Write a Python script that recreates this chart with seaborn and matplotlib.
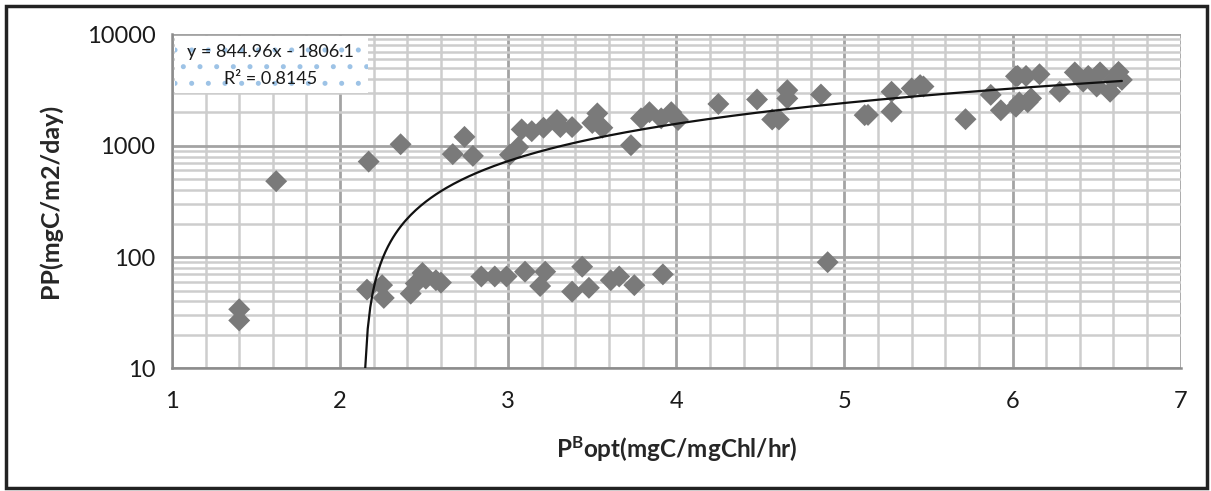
"""
PP vs PBopt scatter on a log axis with the Excel-style linear trendline.
"""

import numpy as np
import pandas as pd
import matplotlib
matplotlib.use("Agg")
import matplotlib.pyplot as plt
import matplotlib.ticker as mticker
from matplotlib.patches import Rectangle
import seaborn as sns

# --- data
pbopt = [1.40, 1.40, 1.62, 2.17, 2.36, 2.67, 2.74, 2.79, 3.01, 3.06,
         3.08, 3.14, 3.21, 3.29, 3.31, 3.38, 3.50, 3.53, 3.56, 3.73,
         3.79, 3.84, 3.91, 3.97, 4.01, 4.25, 4.48, 4.57, 4.61, 4.66,
         4.66, 4.86, 5.12, 5.14, 5.28, 5.28, 5.40, 5.45, 5.47, 5.72,
         5.87, 5.93, 6.02, 6.02, 6.04, 6.03, 6.08, 6.09, 6.11, 6.16,
         6.28, 6.37, 6.42, 6.45, 6.50, 6.52, 6.58, 6.60, 6.63, 6.65,
         2.16, 2.25, 2.26, 2.42, 2.45, 2.49, 2.51, 2.57, 2.60, 2.84,
         2.92, 2.99, 3.10, 3.22, 3.19, 3.44, 3.38, 3.48, 3.61, 3.66,
         3.75, 3.92, 4.90]
pp = [34, 27, 480, 720, 1030, 840, 1200, 810, 830, 970,
      1400, 1350, 1450, 1700, 1470, 1470, 1600, 1950, 1450, 1010,
      1760, 2000, 1760, 2000, 1700, 2370, 2600, 1720, 1720, 3150,
      2660, 2880, 1880, 1890, 3050, 2020, 3270, 3500, 3400, 1730,
      2860, 2080, 4200, 2240, 2450, 4230, 4230, 2460, 2660, 4380,
      3050, 4550, 3760, 4230, 3400, 4550, 3050, 3900, 4600, 3900,
      51, 56, 43, 47, 58, 72, 64, 62, 59, 67,
      67, 67, 74, 74, 55, 82, 49, 53, 62, 67,
      56, 70, 90]

slope = 844.96
intercept = -1806.1
r2 = 0.8145

df = pd.DataFrame({"pbopt": pbopt, "pp": pp})

# trendline over the data range, only where it is above the axis floor
xs = np.linspace((10 - intercept) / slope, max(pbopt), 300)
trend = pd.DataFrame({"pbopt": xs, "pp": slope * xs + intercept})

sns.set_style("white")
plt.rcParams["font.family"] = ["Lato", "DejaVu Sans"]
plt.rcParams["mathtext.fontset"] = "custom"
plt.rcParams["mathtext.rm"] = "Lato"
plt.rcParams["mathtext.bf"] = "Lato:bold"
plt.rcParams["hatch.linewidth"] = 1.2
plt.rcParams["hatch.color"] = "#9dc3e6"

fig = plt.figure(figsize=(12.11, 4.91), dpi=100)
ax = fig.add_axes([0.142, 0.2495, 0.833, 0.6806])

ax.set_yscale("log")
ax.set_xlim(1, 7)
ax.set_ylim(10, 10000)

ax.xaxis.set_major_locator(mticker.MultipleLocator(1))
ax.xaxis.set_minor_locator(mticker.MultipleLocator(0.2))
ax.yaxis.set_major_locator(mticker.LogLocator(base=10))
ax.yaxis.set_minor_locator(mticker.LogLocator(base=10, subs=np.arange(2, 10)))
ax.yaxis.set_major_formatter(mticker.FuncFormatter(lambda v, p: f"{v:.0f}"))
ax.yaxis.set_minor_formatter(mticker.NullFormatter())

ax.grid(which="major", color="#a3a3a3", linewidth=2.0)
ax.grid(which="minor", color="#cdcdcd", linewidth=1.8)
ax.set_axisbelow(True)

for side in ["left", "bottom"]:
    ax.spines[side].set_color("#8c8c8c")
    ax.spines[side].set_linewidth(1.8)
for side in ["top", "right"]:
    ax.spines[side].set_visible(False)

ax.tick_params(axis="both", which="major", length=6, width=1.8, color="#8c8c8c",
               labelsize=17, pad=6, labelcolor="#1a1a1a")
ax.tick_params(axis="y", which="minor", direction="in", length=4, width=1.2, color="#8c8c8c")
ax.tick_params(axis="x", which="minor", length=0)
ax.tick_params(axis="x", which="major", pad=10)

sns.scatterplot(data=df, x="pbopt", y="pp", marker="D", s=125, color="#7a7a7a",
                edgecolor="none", ax=ax, zorder=3, clip_on=False)
sns.lineplot(data=trend, x="pbopt", y="pp", color="#111111", linewidth=1.6,
             ax=ax, zorder=4, sort=False)

ax.set_xlabel(r"$\mathbf{P^{B}opt(mgC/mgChl/hr)}$", fontsize=17.5, labelpad=16)
ax.set_ylabel("PP(mgC/m2/day)", fontsize=18, fontweight="bold", labelpad=18)

# trendline label box with dotted fill
box = Rectangle((0.003, 0.824), 0.191, 0.171, transform=ax.transAxes,
                facecolor="white", edgecolor="#9dc3e6", hatch=".", linewidth=0,
                zorder=5)
ax.add_patch(box)
ax.text(0.0975, 0.947, f"y = {slope}x - {abs(intercept)}", transform=ax.transAxes,
        ha="center", va="center", fontsize=13, color="#1a1a1a", zorder=6)
ax.text(0.0975, 0.865, f"R² = {r2}", transform=ax.transAxes,
        ha="center", va="center", fontsize=13, color="#1a1a1a", zorder=6)

# outer chart frame
fig.patches.append(Rectangle((0.005, 0.006), 0.992, 0.982, transform=fig.transFigure,
                             fill=False, edgecolor="#222222", linewidth=2.5))

fig.savefig("out.png", dpi=100)
